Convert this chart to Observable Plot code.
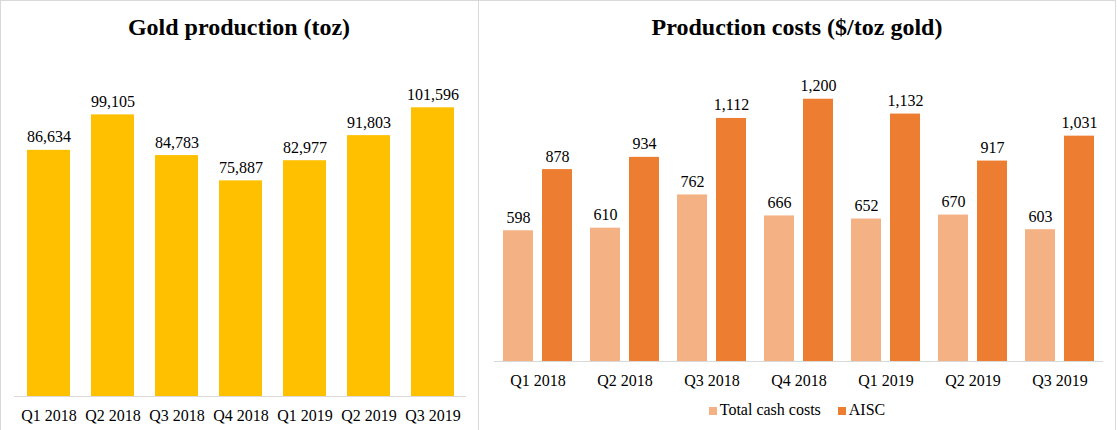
<!DOCTYPE html>
<html>
<head>
<meta charset="utf-8">
<script src="https://cdn.jsdelivr.net/npm/d3@7"></script>
<script src="https://cdn.jsdelivr.net/npm/@observablehq/plot@0.6"></script>
<style>
  html, body { margin: 0; padding: 0; background: #fff; overflow: hidden; }
  body { font-family: "Liberation Serif", "Times New Roman", serif; color: #000; }
  #wrap { position: relative; width: 1118px; height: 430px; }
  .frame { position: absolute; top: 0; height: 460px; box-sizing: border-box; border: 1px solid #d9d9d9; }
  .panel { position: absolute; top: 0; height: 430px; }
  .title { position: absolute; top: 0; left: 0; right: 0; height: 54px; line-height: 54px; text-align: center; font-weight: bold; font-size: 24px; }
  .chart { position: absolute; left: 0; }
  .legend { position: absolute; left: 0; right: 0; top: 395px; height: 30px; line-height: 30px; display: flex; justify-content: center; align-items: center; font-size: 16px; }
  .item { display: flex; align-items: center; }
  .item + .item { margin-left: 17px; }
  .sw { width: 8px; height: 8px; margin-right: 3px; margin-top: 2px; }
</style>
</head>
<body>
<div id="wrap">
  <div class="frame" style="left:0;width:479px;"></div>
  <div class="frame" style="left:478px;width:638px;border-left:none;"></div>
  <div class="panel" id="left" style="left:0;width:478px;">
    <div class="title">Gold production (toz)</div>
    <div class="chart" id="c1" style="top:50px;"></div>
  </div>
  <div class="panel" id="right" style="left:478px;width:638px;">
    <div class="title">Production costs ($/toz gold)</div>
    <div class="chart" id="c2" style="top:50px;"></div>
    <div class="legend" id="legend"></div>
  </div>
</div>
<script>
const quarters = ["Q1 2018","Q2 2018","Q3 2018","Q4 2018","Q1 2019","Q2 2019","Q3 2019"];
const goldProduction = [86634, 99105, 84783, 75887, 82977, 91803, 101596];
const series = ["Total cash costs", "AISC"];
const totalCashCosts = [598, 610, 762, 666, 652, 670, 603];
const aisc = [878, 934, 1112, 1200, 1132, 917, 1031];
const colors = {gold: "#FFC000", "Total cash costs": "#F4B183", "AISC": "#ED7D31"};

const fmt = d3.format(",");
const font = '"Liberation Serif", "Times New Roman", serif';

const goldData = quarters.map((q, i) => ({quarter: q, value: goldProduction[i]}));
const costData = [];
quarters.forEach((q, i) => {
  costData.push({quarter: q, series: series[0], value: totalCashCosts[i]});
  costData.push({quarter: q, series: series[1], value: aisc[i]});
});

const c1 = Plot.plot({
  width: 478,
  height: 380,
  marginTop: 5,
  marginBottom: 34,
  marginLeft: 14,
  marginRight: 12,
  style: {fontFamily: font, fontSize: "16px", color: "#000", background: "transparent"},
  x: {domain: quarters, paddingInner: 0.334, paddingOuter: 0.167},
  y: {domain: [0, 120000], axis: null},
  marks: [
    Plot.barY(goldData, {x: "quarter", y: "value", fill: colors.gold}),
    Plot.ruleY([0], {stroke: "#d9d9d9", strokeWidth: 1}),
    Plot.text(goldData, {x: "quarter", y: "value", text: d => fmt(d.value), dy: -8, lineAnchor: "bottom", fontSize: 16, fill: "#000"}),
    Plot.axisX({tickSize: 0, tickPadding: 13, fontSize: 16, label: null, fill: "#000"})
  ]
});
document.getElementById("c1").appendChild(c1);

const c2 = Plot.plot({
  width: 638,
  height: 345,
  marginTop: 5,
  marginBottom: 34,
  marginLeft: 14,
  marginRight: 12,
  style: {fontFamily: font, fontSize: "16px", color: "#000", background: "transparent"},
  fx: {domain: quarters, padding: 0, axis: null},
  x: {domain: series, paddingInner: 0.225, paddingOuter: 0.2053, axis: null},
  y: {domain: [0, 1400], axis: null},
  color: {domain: series, range: [colors["Total cash costs"], colors["AISC"]]},
  marks: [
    Plot.barY(costData, {fx: "quarter", x: "series", y: "value", fill: "series"}),
    Plot.ruleY([0], {stroke: "#d9d9d9", strokeWidth: 1}),
    Plot.text(costData, {fx: "quarter", x: "series", y: "value", text: d => fmt(d.value), dy: -8, lineAnchor: "bottom", fontSize: 16, fill: "#000"}),
    Plot.axisFx({anchor: "bottom", tickSize: 0, tickPadding: 13, fontSize: 16, label: null, fill: "#000"})
  ]
});
document.getElementById("c2").appendChild(c2);

const legend = document.getElementById("legend");
series.forEach(s => {
  const item = document.createElement("div");
  item.className = "item";
  const sw = document.createElement("span");
  sw.className = "sw";
  sw.style.background = colors[s];
  const label = document.createElement("span");
  label.textContent = s;
  item.appendChild(sw);
  item.appendChild(label);
  legend.appendChild(item);
});
</script>
</body>
</html>
